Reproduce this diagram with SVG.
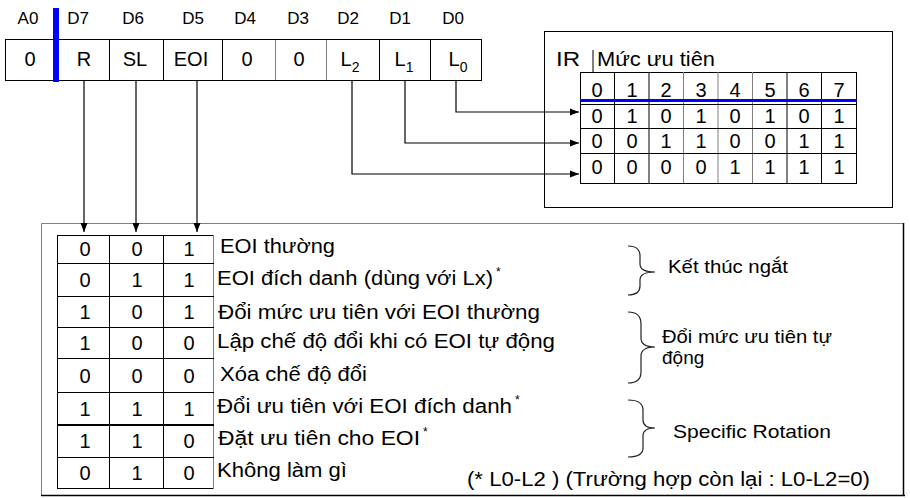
<svg xmlns="http://www.w3.org/2000/svg" width="910" height="498" viewBox="0 0 910 498">
<defs>
<marker id="ah" markerWidth="9" markerHeight="8" refX="9" refY="4" orient="auto" markerUnits="userSpaceOnUse">
<path d="M0,0.5 L9,4 L0,7.5 Z" fill="#000"/>
</marker>
<style>
text{font-family:"Liberation Sans",Arial,sans-serif;fill:#000}
.hd{font-size:17px;text-anchor:middle}
.cell{font-size:20px;text-anchor:middle}
.sub{font-size:14px}
.lbl{font-size:20px}
.br{font-size:19px}
.sup{font-size:12px}
.ln{stroke:#000;stroke-width:1;fill:none}
.gl{stroke:#808080;stroke-width:1;fill:none}
.conn{stroke:#000;stroke-width:1.2;fill:none}
.brace{stroke:#222;stroke-width:1.2;fill:none}
</style>
</defs>
<rect width="910" height="498" fill="#fff"/>

<g id="register">
<text class="hd" x="28" y="24">A0</text>
<text class="hd" x="78" y="24">D7</text>
<text class="hd" x="133" y="24">D6</text>
<text class="hd" x="193" y="24">D5</text>
<text class="hd" x="245" y="24">D4</text>
<text class="hd" x="298" y="24">D3</text>
<text class="hd" x="348" y="24">D2</text>
<text class="hd" x="400" y="24">D1</text>
<text class="hd" x="453" y="24">D0</text>
<rect class="ln" x="5.5" y="39.5" width="476" height="41"/>
<line class="ln" x1="109.5" y1="39" x2="109.5" y2="80"/>
<line class="ln" x1="163.5" y1="39" x2="163.5" y2="80"/>
<line class="ln" x1="222.5" y1="39" x2="222.5" y2="80"/>
<line class="gl" x1="275.5" y1="40" x2="275.5" y2="80"/>
<line class="gl" x1="326.5" y1="40" x2="326.5" y2="80"/>
<line class="ln" x1="379.5" y1="39" x2="379.5" y2="80"/>
<line class="ln" x1="430.5" y1="39" x2="430.5" y2="80"/>
<rect x="53" y="8" width="6" height="74" fill="#0000ff"/>
<text class="cell" x="30" y="66">0</text>
<text class="cell" x="84" y="66">R</text>
<text class="cell" x="135" y="66">SL</text>
<text class="cell" x="191" y="66">EOI</text>
<text class="cell" x="247" y="66">0</text>
<text class="cell" x="299" y="66">0</text>
<text class="cell" x="350" y="66">L<tspan class="sub" dy="6">2</tspan></text>
<text class="cell" x="404" y="66">L<tspan class="sub" dy="6">1</tspan></text>
<text class="cell" x="458" y="66">L<tspan class="sub" dy="6">0</tspan></text>
</g>

<g id="priority-box">
<rect class="ln" x="544.5" y="31.5" width="348" height="176"/>
<text class="lbl" x="556" y="66" textLength="24" lengthAdjust="spacingAndGlyphs">IR</text>
<line class="ln" x1="593" y1="50" x2="593" y2="73"/>
<text class="lbl" x="597" y="66" textLength="118" lengthAdjust="spacingAndGlyphs">Mức ưu tiên</text>
<rect class="ln" x="580.5" y="72.5" width="276" height="111"/>
<line class="ln" x1="614.5" y1="72" x2="614.5" y2="183"/>
<line class="ln" x1="649" y1="72" x2="649" y2="183"/>
<line class="gl" x1="683.5" y1="72" x2="683.5" y2="183"/>
<line class="gl" x1="718" y1="72" x2="718" y2="183"/>
<line class="gl" x1="752.5" y1="72" x2="752.5" y2="183"/>
<line class="ln" x1="787" y1="72" x2="787" y2="183"/>
<line class="ln" x1="821.5" y1="72" x2="821.5" y2="183"/>
<line class="ln" x1="580" y1="104.5" x2="856" y2="104.5"/>
<line class="ln" x1="580" y1="128.5" x2="856" y2="128.5"/>
<line class="ln" x1="580" y1="153.5" x2="856" y2="153.5"/>
<rect x="580" y="99" width="277" height="3" fill="#0000ff"/>
<text class="cell" x="597" y="97">0</text><text class="cell" x="632" y="97">1</text><text class="cell" x="666" y="97">2</text><text class="cell" x="701" y="97">3</text><text class="cell" x="735" y="97">4</text><text class="cell" x="770" y="97">5</text><text class="cell" x="804" y="97">6</text><text class="cell" x="839" y="97">7</text>
<text class="cell" x="597" y="123">0</text><text class="cell" x="632" y="123">1</text><text class="cell" x="666" y="123">0</text><text class="cell" x="701" y="123">1</text><text class="cell" x="735" y="123">0</text><text class="cell" x="770" y="123">1</text><text class="cell" x="804" y="123">0</text><text class="cell" x="839" y="123">1</text>
<text class="cell" x="597" y="148">0</text><text class="cell" x="632" y="148">0</text><text class="cell" x="666" y="148">1</text><text class="cell" x="701" y="148">1</text><text class="cell" x="735" y="148">0</text><text class="cell" x="770" y="148">0</text><text class="cell" x="804" y="148">1</text><text class="cell" x="839" y="148">1</text>
<text class="cell" x="597" y="174">0</text><text class="cell" x="632" y="174">0</text><text class="cell" x="666" y="174">0</text><text class="cell" x="701" y="174">0</text><text class="cell" x="735" y="174">1</text><text class="cell" x="770" y="174">1</text><text class="cell" x="804" y="174">1</text><text class="cell" x="839" y="174">1</text>
</g>

<g id="command-box">
<line class="gl" x1="41.5" y1="223.5" x2="904" y2="223.5"/>
<line class="gl" x1="41.5" y1="223.5" x2="41.5" y2="496"/>
<line x1="41" y1="495.5" x2="905" y2="495.5" stroke="#000" stroke-width="1.5"/>
<line x1="903.5" y1="223" x2="903.5" y2="496" stroke="#000" stroke-width="1.5"/>
<rect class="ln" x="57.5" y="235.5" width="156" height="253"/>
<line class="gl" x1="213.5" y1="235" x2="213.5" y2="489"/>
<line class="ln" x1="109.5" y1="235" x2="109.5" y2="488"/>
<line class="ln" x1="163.5" y1="235" x2="163.5" y2="488"/>
<line class="ln" x1="57" y1="263.5" x2="214" y2="263.5"/>
<line class="ln" x1="57" y1="296.5" x2="214" y2="296.5"/>
<line class="ln" x1="57" y1="327.5" x2="214" y2="327.5"/>
<line class="ln" x1="57" y1="358.5" x2="214" y2="358.5"/>
<line class="ln" x1="57" y1="392.5" x2="214" y2="392.5"/>
<line x1="57" y1="425" x2="214" y2="425" stroke="#000" stroke-width="2"/>
<line class="ln" x1="57" y1="457.5" x2="214" y2="457.5"/>
<text class="cell" x="85" y="256">0</text><text class="cell" x="137" y="256">0</text><text class="cell" x="189" y="256">1</text>
<text class="cell" x="85" y="287">0</text><text class="cell" x="137" y="287">1</text><text class="cell" x="189" y="287">1</text>
<text class="cell" x="85" y="319">1</text><text class="cell" x="137" y="319">0</text><text class="cell" x="189" y="319">1</text>
<text class="cell" x="85" y="350">1</text><text class="cell" x="137" y="350">0</text><text class="cell" x="189" y="350">0</text>
<text class="cell" x="85" y="383">0</text><text class="cell" x="137" y="383">0</text><text class="cell" x="189" y="383">0</text>
<text class="cell" x="85" y="416">1</text><text class="cell" x="137" y="416">1</text><text class="cell" x="189" y="416">1</text>
<text class="cell" x="85" y="448">1</text><text class="cell" x="137" y="448">1</text><text class="cell" x="189" y="448">0</text>
<text class="cell" x="85" y="480">0</text><text class="cell" x="137" y="480">1</text><text class="cell" x="189" y="480">0</text>

<text class="lbl" x="220" y="253" textLength="115" lengthAdjust="spacingAndGlyphs">EOI thường</text>
<text class="lbl" x="217" y="285"><tspan textLength="276" lengthAdjust="spacingAndGlyphs">EOI đích danh (dùng với Lx)</tspan><tspan class="sup" dx="3" dy="-9">*</tspan></text>
<text class="lbl" x="218" y="319" textLength="322" lengthAdjust="spacingAndGlyphs">Đổi mức ưu tiên với EOI thường</text>
<text class="lbl" x="217" y="348" textLength="338" lengthAdjust="spacingAndGlyphs">Lập chế độ đổi khi có EOI tự động</text>
<text class="lbl" x="220" y="381" textLength="147" lengthAdjust="spacingAndGlyphs">Xóa chế độ đổi</text>
<text class="lbl" x="217" y="413"><tspan textLength="295" lengthAdjust="spacingAndGlyphs">Đổi ưu tiên với EOI đích danh</tspan><tspan class="sup" dx="3" dy="-9">*</tspan></text>
<text class="lbl" x="218" y="445"><tspan textLength="202" lengthAdjust="spacingAndGlyphs">Đặt ưu tiên cho EOI</tspan><tspan class="sup" dx="3" dy="-9">*</tspan></text>
<text class="lbl" x="217" y="477" textLength="130" lengthAdjust="spacingAndGlyphs">Không làm gì</text>
<text class="lbl" x="467" y="486" textLength="403" lengthAdjust="spacingAndGlyphs">(* L0-L2 ) (Trường hợp còn lại : L0-L2=0)</text>

<path class="brace" d="M628,246 Q640,246 640,256 L640,264 Q640,272 655,272 Q640,272 640,280 L640,286 Q640,295 628,295"/>
<path class="brace" d="M628,312 Q641,312 641,324 L641,338 Q641,347 655,347 Q641,347 641,356 L641,372 Q641,383 628,383"/>
<path class="brace" d="M628,400 Q643,400 643,410 L643,420 Q643,428 655,428 Q643,428 643,436 L643,448 Q643,457 628,457"/>
<text class="br" x="668" y="273" textLength="120" lengthAdjust="spacingAndGlyphs">Kết thúc ngắt</text>
<text class="br" x="662" y="343" textLength="170" lengthAdjust="spacingAndGlyphs">Đổi mức ưu tiên tự</text>
<text class="br" x="662" y="364">động</text>
<text class="br" x="673" y="438" textLength="158" lengthAdjust="spacingAndGlyphs">Specific Rotation</text>
</g>

<g id="connectors">
<line class="conn" x1="84" y1="80" x2="84" y2="232" marker-end="url(#ah)"/>
<line class="conn" x1="136" y1="80" x2="136" y2="232" marker-end="url(#ah)"/>
<line class="conn" x1="197" y1="80" x2="197" y2="232" marker-end="url(#ah)"/>
<polyline class="conn" points="456,80 456,112 579,112" marker-end="url(#ah)"/>
<polyline class="conn" points="405,80 405,143 579,143" marker-end="url(#ah)"/>
<polyline class="conn" points="352,80 352,174 579,174" marker-end="url(#ah)"/>
</g>
</svg>
